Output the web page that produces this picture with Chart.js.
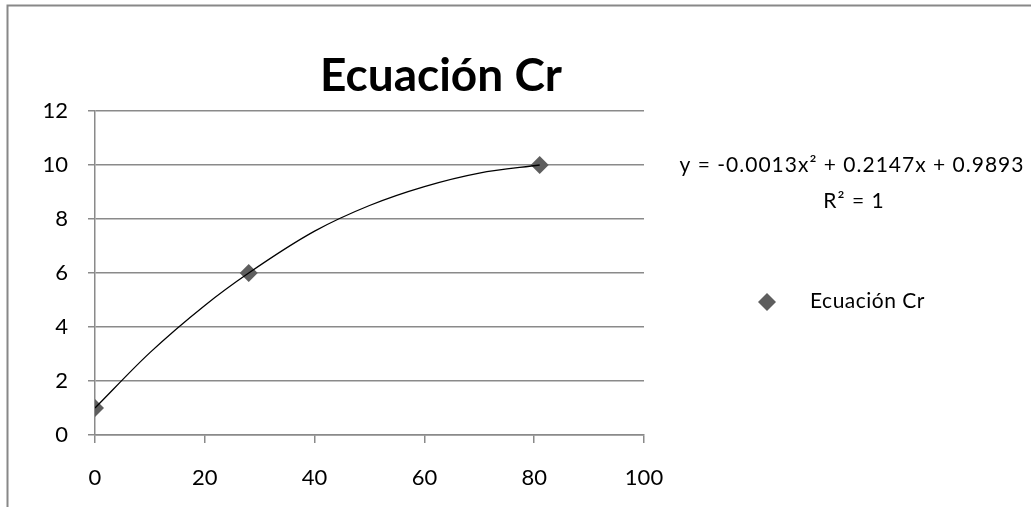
<!DOCTYPE html>
<html>
<head>
<meta charset="utf-8">
<script src="https://cdn.jsdelivr.net/npm/chart.js@4/dist/chart.umd.min.js"></script>
<style>
  html, body { margin: 0; padding: 0; background: #ffffff; }
  #wrap { width: 1031px; height: 507px; }
</style>
</head>
<body>
<div id="wrap"><canvas id="crChart" width="1031" height="507"></canvas></div>
<script>
// data
var chartTitle = 'Ecuación Cr';
var seriesName = 'Ecuación Cr';
var xValues = [0, 28, 81];
var yValues = [1, 6, 10];
// points read along the drawn trendline
var trendX = [0, 10, 20, 28, 40, 50, 60, 70, 81];
var trendY = [1, 3.05, 4.8, 6, 7.55, 8.5, 9.2, 9.7, 10];
var xTicks = [0, 20, 40, 60, 80, 100];
var yTicks = [0, 2, 4, 6, 8, 10, 12];
var trendLabel = ['y = -0.0013x² + 0.2147x + 0.9893', 'R² = 1'];

var FONT = 'Lato, "Open Sans", sans-serif';
var GRID = '#8a8a8a';
var MARK = '#5e5e5e';

var points = xValues.map(function (x, i) {
    return { x: x, y: yValues[i] };
});
var trendPoints = trendX.map(function (x, i) {
    return { x: x, y: trendY[i] };
});

// frame, title, trendline text and legend, drawn at fixed spots
var decorPlugin = {
    id: 'decor',
    beforeDraw: function (chart) {
        var ctx = chart.ctx;
        ctx.save();
        ctx.strokeStyle = '#888888';
        ctx.lineWidth = 2;
        ctx.beginPath();
        ctx.moveTo(7.5, 507);
        ctx.lineTo(7.5, 5.5);
        ctx.lineTo(1031, 5.5);
        ctx.stroke();
        ctx.restore();
    },
    afterDraw: function (chart) {
        var ctx = chart.ctx;
        ctx.save();
        ctx.fillStyle = '#000000';
        ctx.textBaseline = 'alphabetic';

        ctx.font = 'bold 46px ' + FONT;
        ctx.textAlign = 'center';
        ctx.fillText(chartTitle, 441, 91);

        ctx.font = '21px ' + FONT;
        ctx.letterSpacing = '1px';
        ctx.fillText(trendLabel[0], 852, 172);
        ctx.fillText(trendLabel[1], 854, 208);

        // legend entry
        ctx.fillStyle = MARK;
        ctx.beginPath();
        ctx.moveTo(767, 293);
        ctx.lineTo(776, 302);
        ctx.lineTo(767, 311);
        ctx.lineTo(758, 302);
        ctx.closePath();
        ctx.fill();
        ctx.fillStyle = '#000000';
        ctx.textAlign = 'left';
        ctx.letterSpacing = '0.5px';
        ctx.fillText(seriesName, 810, 308);
        ctx.restore();
    }
};

function makeChart() {
    var ctx = document.getElementById('crChart').getContext('2d');
    new Chart(ctx, {
        type: 'scatter',
        data: {
            datasets: [{
                label: 'trend',
                data: trendPoints,
                showLine: true,
                cubicInterpolationMode: 'monotone',
                borderColor: '#000000',
                borderWidth: 1.3,
                pointRadius: 0,
                fill: false,
                order: 0
            }, {
                label: seriesName,
                data: points,
                pointStyle: 'rectRot',
                pointRadius: 9,
                pointHoverRadius: 9,
                backgroundColor: MARK,
                borderColor: MARK,
                borderWidth: 0,
                order: 1
            }]
        },
        options: {
            responsive: false,
            animation: false,
            layout: {
                padding: { left: 0, top: 111, right: 387, bottom: 0 }
            },
            plugins: {
                legend: { display: false },
                title: { display: false },
                tooltip: { enabled: false }
            },
            scales: {
                x: {
                    type: 'linear',
                    min: 0,
                    max: 100,
                    afterBuildTicks: function (scale) {
                        scale.ticks = xTicks.map(function (v) { return { value: v }; });
                    },
                    afterFit: function (scale) { scale.height = 72; },
                    ticks: {
                        color: '#000000',
                        font: { family: FONT, size: 22 },
                        padding: 22,
                        maxRotation: 0
                    },
                    grid: {
                        drawOnChartArea: false,
                        drawTicks: true,
                        tickLength: 8,
                        color: GRID,
                        lineWidth: 1.5
                    },
                    border: { display: true, color: GRID, width: 1.5 }
                },
                y: {
                    type: 'linear',
                    min: 0,
                    max: 12,
                    afterBuildTicks: function (scale) {
                        scale.ticks = yTicks.map(function (v) { return { value: v }; });
                    },
                    afterFit: function (scale) { scale.width = 95; },
                    ticks: {
                        color: '#000000',
                        font: { family: FONT, size: 22 },
                        padding: 20
                    },
                    grid: {
                        drawTicks: true,
                        tickLength: 7,
                        color: GRID,
                        lineWidth: 1.5
                    },
                    border: { display: true, color: GRID, width: 1.5 }
                }
            }
        },
        plugins: [decorPlugin]
    });
}

if (document.fonts && document.fonts.load) {
    Promise.all([
        document.fonts.load('21px Lato'),
        document.fonts.load('bold 46px Lato')
    ]).then(makeChart, makeChart);
} else {
    makeChart();
}
</script>
</body>
</html>
